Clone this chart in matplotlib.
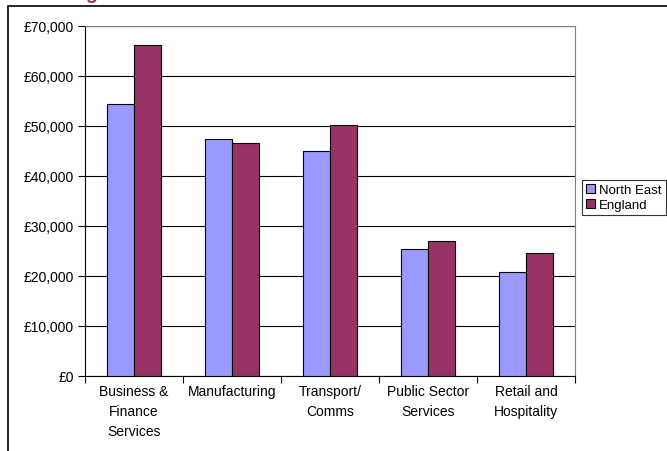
import matplotlib.pyplot as plt
from matplotlib.patches import Rectangle
from matplotlib.ticker import FuncFormatter
import numpy as np

plt.rcParams['font.family'] = ['Liberation Sans', 'DejaVu Sans']

categories = ["Business &\nFinance\nServices", "Manufacturing", "Transport/\nComms",
              "Public Sector\nServices", "Retail and\nHospitality"]
north_east = [54400, 47400, 45100, 25500, 20800]
england = [66200, 46600, 50200, 27000, 24700]
series_names = ["North East", "England"]

fig = plt.figure(figsize=(6.67, 4.52), dpi=100)
ax = fig.add_axes([85 / 667, 1 - 377 / 452, 490 / 667, 350 / 452])

# outer chart frame (cropped at right/bottom)
fig.patches.append(Rectangle((8 / 667, -0.1), 1.2, 1 - 7 / 452 + 0.1,
                             transform=fig.transFigure, fill=False,
                             edgecolor="black", linewidth=1.2))
# cut-off title glyph at top
fig.text(91 / 667, 1 + 1 / 452, "g", color="#993366", fontsize=14,
         fontweight="bold", ha="center", va="baseline")

x = np.arange(len(categories))
w = 0.275
b1 = ax.bar(x - w / 2, north_east, w, color="#9999FF", edgecolor="black",
            linewidth=0.8, label=series_names[0], zorder=3)
b2 = ax.bar(x + w / 2, england, w, color="#993366", edgecolor="black",
            linewidth=0.8, label=series_names[1], zorder=3)

ax.set_xlim(-0.5, len(categories) - 0.5)
ax.set_ylim(0, 70000)
ax.set_yticks(range(0, 70001, 10000))
ax.yaxis.set_major_formatter(FuncFormatter(lambda v, p: "£{:,.0f}".format(v)))
ax.yaxis.grid(True, color="black", linewidth=0.8, zorder=0)

ax.set_xticks(x)
ax.set_xticklabels(categories, fontsize=10, linespacing=1.55)
ax.set_xticks(np.arange(-0.5, len(categories), 1), minor=True)
ax.tick_params(axis="x", which="major", length=0, pad=6)
ax.tick_params(axis="x", which="minor", length=5, direction="out", width=0.8)
ax.tick_params(axis="y", length=5, direction="out", width=0.8, labelsize=10, pad=3)

for side in ["top", "right"]:
    ax.spines[side].set_color("#808080")
ax.spines["left"].set_color("black")
ax.spines["bottom"].set_color("black")

leg = fig.legend(handles=[b1, b2], loc="upper left",
                 bbox_to_anchor=(582 / 667, 1 - 181 / 452), fontsize=9.5,
                 frameon=True, fancybox=False, edgecolor="black",
                 handlelength=0.7, handleheight=0.7, handletextpad=0.3,
                 borderpad=0.3, labelspacing=0.2, borderaxespad=0)
leg.get_frame().set_linewidth(0.8)

fig.savefig("out.png", dpi=100)
